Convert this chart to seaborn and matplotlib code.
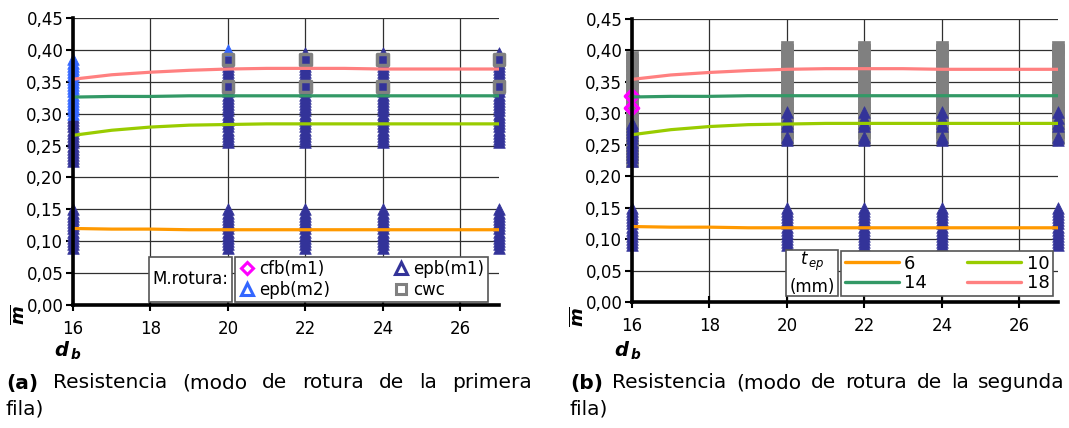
import pandas as pd
import seaborn as sns
import matplotlib.pyplot as plt
from matplotlib.lines import Line2D
from matplotlib.patches import Rectangle
from matplotlib.ticker import FuncFormatter

sns.set_theme(style="ticks")
plt.rcParams['font.family'] = ['DejaVu Sans']
plt.rcParams['text.color'] = 'black'
plt.rcParams['axes.labelcolor'] = 'black'
plt.rcParams['mathtext.fontset'] = 'custom'
plt.rcParams['mathtext.rm'] = 'DejaVu Sans'
plt.rcParams['mathtext.it'] = 'DejaVu Sans:italic'
plt.rcParams['mathtext.bf'] = 'DejaVu Sans:bold:italic'

# curvas de resistencia (m medio) segun t_ep
d_b = [16, 17, 18, 19, 20, 21, 22, 23, 24, 25, 26, 27]
m_t6 = [0.120, 0.119, 0.119, 0.118, 0.118, 0.118, 0.118, 0.118, 0.118, 0.118, 0.118, 0.118]
m_t10 = [0.266, 0.274, 0.279, 0.282, 0.283, 0.284, 0.284, 0.284, 0.284, 0.284, 0.284, 0.284]
m_t14 = [0.326, 0.327, 0.327, 0.328, 0.328, 0.328, 0.328, 0.328, 0.328, 0.328, 0.328, 0.328]
m_t18 = [0.354, 0.361, 0.365, 0.368, 0.370, 0.371, 0.371, 0.371, 0.370, 0.370, 0.370, 0.370]
t_ep = ['6', '10', '14', '18']
line_colors = ['#FF9900', '#99CC00', '#339966', '#FF8080']

# posiciones de los ensayos
x_first = 16
x_rest = [20, 22, 24, 27]

# columna inferior (todos los d_b, ambos graficos)
epb_low = [0.090, 0.095, 0.100, 0.105, 0.110, 0.115, 0.120, 0.125, 0.130,
           0.135, 0.140, 0.145, 0.150]

# (a) modo de rotura de la primera fila
a_epb1_16 = [0.225, 0.230, 0.235, 0.240, 0.245, 0.250, 0.255, 0.260, 0.265,
             0.270, 0.275, 0.280, 0.285, 0.290, 0.295]
a_epb2_16 = [0.300, 0.305, 0.310, 0.315, 0.320, 0.325, 0.330, 0.335, 0.340,
             0.345, 0.350, 0.355, 0.360, 0.365, 0.370, 0.375, 0.380, 0.385]
a_epb1_rest = [0.255, 0.260, 0.265, 0.270, 0.275, 0.280, 0.285, 0.290, 0.295,
               0.300, 0.305, 0.310, 0.315, 0.320, 0.325, 0.330, 0.335, 0.340,
               0.345, 0.350, 0.355, 0.360, 0.365, 0.370, 0.375, 0.380, 0.385,
               0.390, 0.395]
a_epb2_20 = [0.400]
a_cwc_rest = [0.343, 0.385]

# (b) modo de rotura de la segunda fila
b_cwc_16 = [0.225, 0.235, 0.245, 0.255, 0.265, 0.275, 0.285, 0.295, 0.305,
            0.315, 0.325, 0.335, 0.345, 0.355, 0.365, 0.375, 0.385, 0.390]
b_cfb_16 = [0.308, 0.327]
b_epb1_16 = [0.225, 0.230, 0.235, 0.240, 0.245, 0.250, 0.255, 0.260, 0.265,
             0.270, 0.275, 0.280, 0.285]
b_cwc_rest = [0.260, 0.270, 0.280, 0.290, 0.300, 0.310, 0.320, 0.330, 0.340,
              0.350, 0.360, 0.370, 0.380, 0.390, 0.400, 0.405]
b_epb1_rest = [0.258, 0.262, 0.280, 0.285, 0.292, 0.302]

cap_a = ['(a)', 'Resistencia', '(modo', 'de', 'rotura', 'de', 'la', 'primera']
cap_b = ['(b)', 'Resistencia', '(modo', 'de', 'rotura', 'de', 'la', 'segunda']

C_EPB1 = '#333399'
C_EPB2 = '#3366FF'
C_CFB = '#FF00FF'
C_CWC = '#808080'


def col(xs, ys):
    rows = [(x, y) for x in xs for y in ys]
    return pd.DataFrame(rows, columns=['d_b', 'm'])


def filled(ax, df, marker, color, size, z):
    sns.scatterplot(data=df, x='d_b', y='m', marker=marker, s=size, color=color,
                    edgecolor=color, linewidth=0.5, clip_on=False, zorder=z,
                    legend=False, ax=ax)


def hollow(ax, df, marker, color, size, z):
    sns.scatterplot(data=df, x='d_b', y='m', marker=marker, s=size,
                    facecolor='none', edgecolor=color, linewidth=2.5,
                    clip_on=False, zorder=z, legend=False, ax=ax)


def dibujar_lineas(ax):
    for ys, c in zip([m_t6, m_t10, m_t14, m_t18], line_colors):
        sns.lineplot(x=d_b, y=ys, color=c, lw=2.3, zorder=5, ax=ax)


def formato(ax, ylab_xy, xlab_xy):
    ax.set_xlim(16, 27)
    ax.set_ylim(0, 0.45)
    ax.set_xticks([16, 18, 20, 22, 24, 26])
    ax.set_yticks([0, 0.05, 0.10, 0.15, 0.20, 0.25, 0.30, 0.35, 0.40, 0.45])
    ax.yaxis.set_major_formatter(FuncFormatter(lambda v, p: f"{v:.2f}".replace('.', ',')))
    ax.grid(True, color='#303030', lw=0.9)
    ax.set_axisbelow(True)
    for s in ['top', 'right']:
        ax.spines[s].set_visible(False)
    for s in ['left', 'bottom']:
        ax.spines[s].set_linewidth(2.6)
        ax.spines[s].set_color('black')
        ax.spines[s].set_zorder(6)
    ax.tick_params(axis='y', direction='out', length=5, width=1.5, labelsize=12,
                   colors='black', pad=2)
    ax.tick_params(axis='x', direction='inout', length=8, width=1.5, labelsize=12,
                   colors='black', pad=7)
    ax.set_ylabel(r"$\overline{\mathbf{m}}$", fontsize=13, rotation=90)
    ax.yaxis.set_label_coords(*ylab_xy)
    ax.set_xlabel(r"$\mathbf{d}_{\,\mathbf{b}}$", fontsize=14)
    ax.xaxis.set_label_coords(*xlab_xy)


fig = plt.figure(figsize=(10.69, 4.28), dpi=100)
ax1 = fig.add_axes([73 / 1069, 1 - 305 / 428, 426 / 1069, 287 / 428])
ax2 = fig.add_axes([632 / 1069, 1 - 302 / 428, 426 / 1069, 283 / 428])

# ---- (a)
filled(ax1, col([x_first] + x_rest, epb_low), '^', C_EPB1, 70, 3)
filled(ax1, col([x_first], a_epb1_16), '^', C_EPB1, 70, 3)
filled(ax1, col([x_first], a_epb2_16), '^', C_EPB2, 70, 3)
filled(ax1, col(x_rest, a_epb1_rest), '^', C_EPB1, 70, 3)
filled(ax1, col([20], a_epb2_20), '^', C_EPB2, 70, 3)
hollow(ax1, col(x_rest, a_cwc_rest), 's', C_CWC, 60, 4)
dibujar_lineas(ax1)
formato(ax1, (-0.105, -0.035), (-0.012, -0.122))

h1 = [Line2D([], [], ls='none', marker='D', ms=6.5, mfc='none', mec=C_CFB, mew=2.2, label='cfb(m1)'),
      Line2D([], [], ls='none', marker='^', ms=8, mfc='none', mec=C_EPB2, mew=2.2, label='epb(m2)'),
      Line2D([], [], ls='none', marker='^', ms=8, mfc='none', mec=C_EPB1, mew=2.2, label='epb(m1)'),
      Line2D([], [], ls='none', marker='s', ms=7.5, mfc='none', mec=C_CWC, mew=2.2, label='cwc')]
leg = ax1.legend(handles=h1, ncol=2, loc='lower left',
                 bbox_to_anchor=(0.380, 0.0105, 0.594, 0.157), mode='expand',
                 fontsize=12, fancybox=False, edgecolor='#555555', framealpha=1,
                 borderaxespad=0, handlelength=1.0, handletextpad=0.25,
                 labelspacing=0.15, borderpad=0.2, columnspacing=1.0)
leg.set_zorder(10)
leg.get_frame().set_linewidth(1.2)
ax1.add_patch(Rectangle((0.178, 0.0105), 0.195, 0.157, transform=ax1.transAxes,
                        fc='white', ec='#555555', lw=1.2, zorder=10, clip_on=False))
ax1.text(0.2755, 0.089, 'M.rotura:', transform=ax1.transAxes, ha='center',
         va='center', fontsize=12, zorder=11)

# ---- (b)
filled(ax2, col([x_first], b_cwc_16), 's', C_CWC, 75, 2)
filled(ax2, col(x_rest, b_cwc_rest), 's', C_CWC, 75, 2)
filled(ax2, col([x_first] + x_rest, epb_low), '^', C_EPB1, 70, 3)
filled(ax2, col([x_first], b_epb1_16), '^', C_EPB1, 70, 3)
filled(ax2, col(x_rest, b_epb1_rest), '^', C_EPB1, 70, 3)
hollow(ax2, col([x_first], b_cfb_16), 'D', C_CFB, 45, 4)
dibujar_lineas(ax2)
formato(ax2, (-0.104, -0.05), (-0.009, -0.134))

h2 = [Line2D([], [], color=c, lw=2.4, label=t) for t, c in zip(t_ep, line_colors)]
h2 = [h2[0], h2[2], h2[1], h2[3]]
leg2 = ax2.legend(handles=h2, ncol=2, loc='lower left',
                  bbox_to_anchor=(0.4906, 0.0212, 0.4977, 0.1625), mode='expand',
                  fontsize=13, fancybox=False, edgecolor='#555555', framealpha=1,
                  borderaxespad=0, handlelength=3.0, handletextpad=0.3,
                  labelspacing=0.1, borderpad=0.2, columnspacing=1.0)
leg2.set_zorder(10)
leg2.get_frame().set_linewidth(1.2)
ax2.add_patch(Rectangle((0.3615, 0.0212), 0.1221, 0.1625, transform=ax2.transAxes,
                        fc='white', ec='#555555', lw=1.2, zorder=10, clip_on=False))
ax2.text(0.4225, 0.1025, r"$t_{\,ep}$" + "\n(mm)", transform=ax2.transAxes,
         ha='center', va='center', fontsize=12, zorder=11, linespacing=1.3)

# ---- pies de figura (texto justificado)
W, H = 1069, 428
cap_size = 14.5
renderer = fig.canvas.get_renderer()


def pie(words, x0, x1):
    ts = [fig.text(0, 1 - 383 / H, w, fontsize=cap_size, va='center',
                   fontweight='bold' if i == 0 else 'normal')
          for i, w in enumerate(words)]
    ws = [t.get_window_extent(renderer).width for t in ts]
    gap = (x1 - x0 - sum(ws)) / (len(ts) - 1)
    x = x0
    for t, w in zip(ts, ws):
        t.set_x(x / W)
        x += w + gap
    fig.text(x0 / W, 1 - 409 / H, 'fila)', fontsize=cap_size, va='center')


pie(cap_a, 6, 532)
pie(cap_b, 570, 1065)

plt.savefig('out.png', dpi=100)
